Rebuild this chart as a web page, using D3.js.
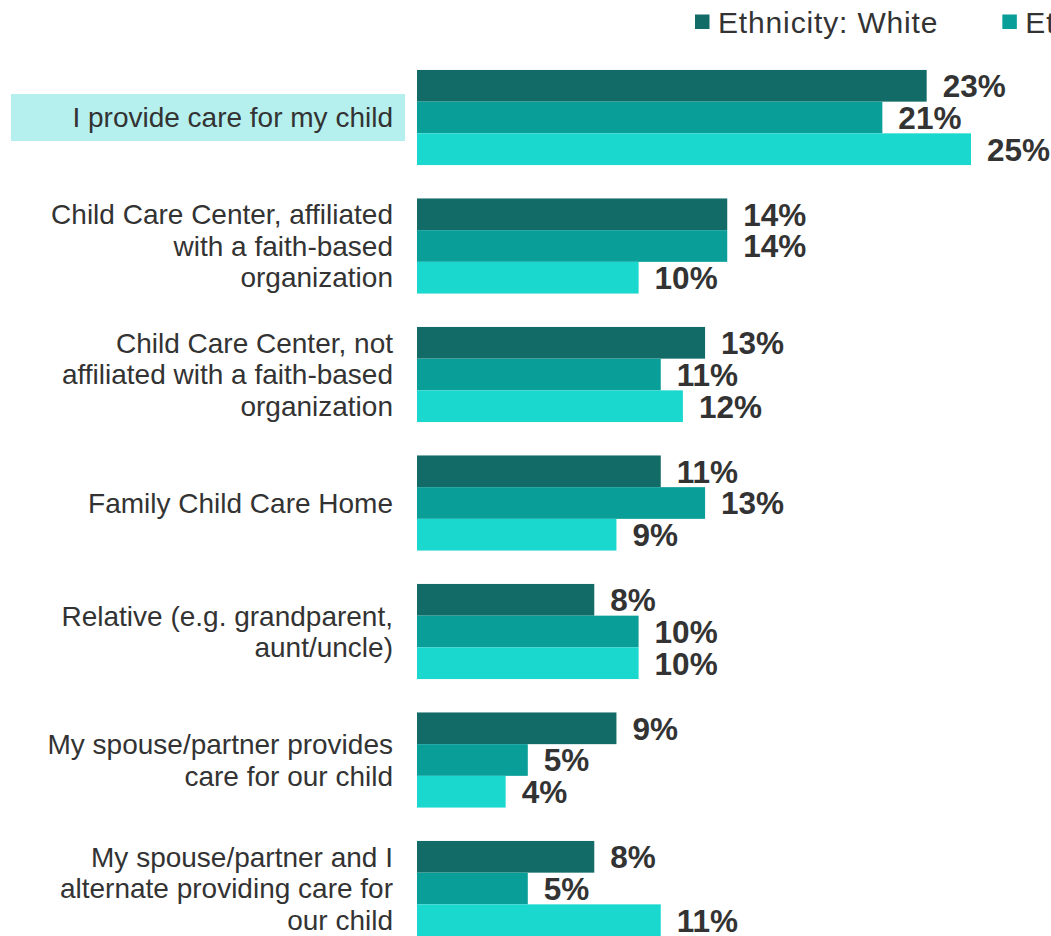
<!DOCTYPE html>
<html><head><meta charset="utf-8">
<script src="https://cdn.jsdelivr.net/npm/d3@7"></script>
<style>body{margin:0;background:#fff;overflow:hidden}svg{display:block}</style>
</head><body>
<script>
const categories = [
  ["I provide care for my child"],
  ["Child Care Center, affiliated","with a faith-based","organization"],
  ["Child Care Center, not","affiliated with a faith-based","organization"],
  ["Family Child Care Home"],
  ["Relative (e.g. grandparent,","aunt/uncle)"],
  ["My spouse/partner provides","care for our child"],
  ["My spouse/partner and I","alternate providing care for","our child"]
];
const seriesNames = ["Ethnicity: White", "Ethnicity: Black", "Ethnicity: Hispanic"];
const white    = [23, 14, 13, 11, 8, 9, 8];
const black    = [21, 14, 11, 13, 10, 5, 5];
const hispanic = [25, 10, 12, 9, 10, 4, 11];
const seriesValues = [white, black, hispanic];
const colors = ["#136b68", "#0a9e99", "#1bd8cf"];

const W = 1051, H = 936;
const svg = d3.select("body").append("svg").attr("width", W).attr("height", H);
const font = "'Liberation Sans', Arial, sans-serif";

const y = d3.scaleBand().domain(d3.range(categories.length))
  .range([53.25, 952.75]).paddingInner(0.26).paddingOuter(0.13);
const ySub = d3.scaleBand().domain(d3.range(seriesNames.length)).range([0, y.bandwidth()]);
const x = d3.scaleLinear().domain([0, 25]).range([417, 971]);

// highlight box behind first category label
const c0 = y(0) + y.bandwidth()/2;
svg.append("rect").attr("x", 11).attr("y", c0 - 23.5).attr("width", 394).attr("height", 47)
  .attr("fill", "#b5f0ee");

// category labels
const lineH = 31.5;
categories.forEach((lines, i) => {
  const cy = y(i) + y.bandwidth()/2;
  const t = svg.append("text").attr("text-anchor", "end")
    .attr("font-family", font).attr("font-size", 28).attr("fill", "#333");
  lines.forEach((ln, k) => {
    t.append("tspan").attr("x", 393)
      .attr("y", cy + (k - (lines.length - 1)/2) * lineH)
      .attr("dy", "0.35em").text(ln);
  });
});

// bars
seriesValues.forEach((vals, s) => {
  const g = svg.append("g");
  g.selectAll("rect").data(vals).join("rect")
    .attr("x", x(0))
    .attr("y", (d, i) => y(i) + ySub(s))
    .attr("width", d => x(d) - x(0))
    .attr("height", ySub.bandwidth())
    .attr("fill", colors[s]);
  g.selectAll("text").data(vals).join("text")
    .attr("x", d => x(d) + 16)
    .attr("y", (d, i) => y(i) + ySub(s) + ySub.bandwidth()/2)
    .attr("dy", "0.36em")
    .attr("font-family", font).attr("font-size", 31.5).attr("font-weight", "bold")
    .attr("fill", "#333")
    .text(d => d + "%");
});

// legend
let lx = 695;
seriesNames.forEach((name, s) => {
  svg.append("rect").attr("x", lx).attr("y", 14.5).attr("width", 14.5).attr("height", 14.5)
    .attr("fill", colors[s]);
  const t = svg.append("text").attr("x", lx + 23).attr("y", 33)
    .attr("font-family", font).attr("font-size", 30).attr("letter-spacing", 0.85)
    .attr("fill", "#333").text(name);
  lx += 23 + t.node().getComputedTextLength() + 64;
});
</script>
</body></html>
